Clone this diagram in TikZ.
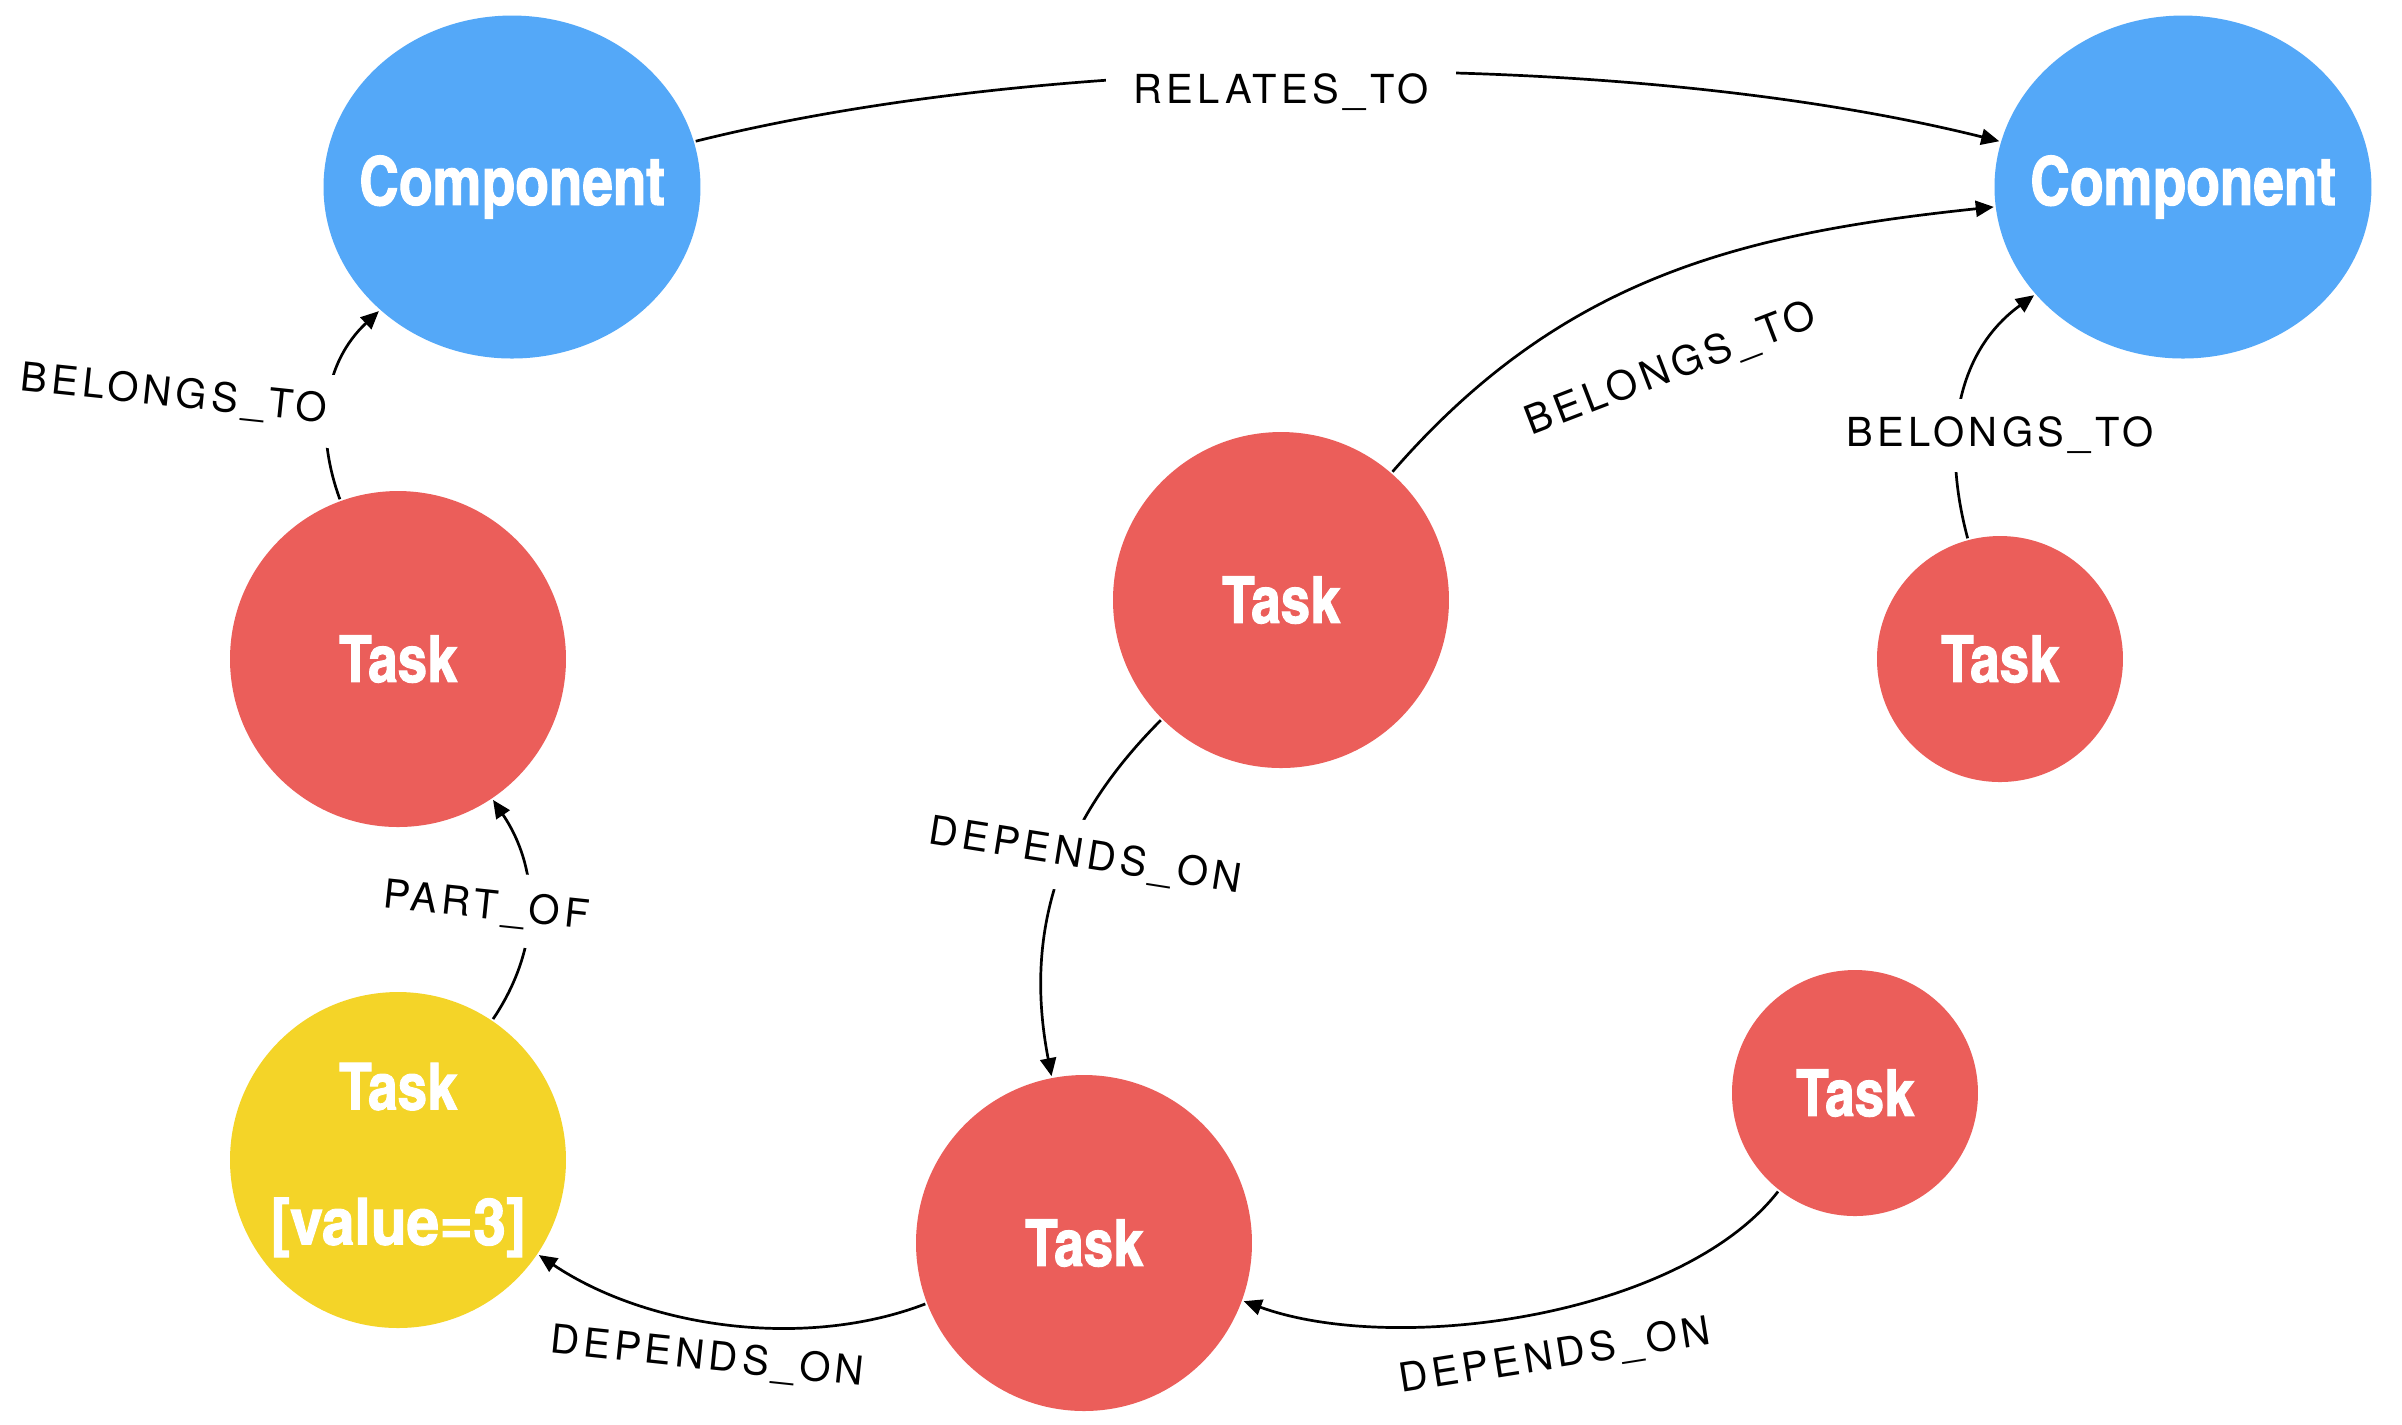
\documentclass[tikz,border=0pt]{standalone}
\usepackage{fontspec}
\usetikzlibrary{shapes.geometric,arrows.meta}
\newfontfamily\nodefont{texgyreheroscn-bold.otf}[FakeBold=1.5]
\newfontfamily\labfont{texgyreheros-regular.otf}[LetterSpace=11]
\definecolor{compblue}{HTML}{54A8F8}
\definecolor{taskred}{HTML}{EB5E5A}
\definecolor{taskyellow}{HTML}{F4D428}
\begin{document}
\begin{tikzpicture}[x=0.1pt,y=-0.1pt,
  comp/.style={ellipse, fill=compblue, minimum width=37.7pt, minimum height=34.3pt, inner sep=0pt, text=white, font=\nodefont\fontsize{6.7}{7}\selectfont},
  bigtask/.style={circle, fill=taskred, minimum size=33.6pt, inner sep=0pt, text=white, font=\nodefont\fontsize{6.5}{7}\selectfont},
  smalltask/.style={bigtask, minimum size=24.6pt},
  yellowtask/.style={bigtask, fill=taskyellow, align=center, font=\nodefont\fontsize{6.5}{13.5}\selectfont},
  rel/.style={line width=0.27pt, -{Triangle[length=1.8pt,width=1.6pt]}},
  lab/.style={font=\labfont\fontsize{4}{4.4}\selectfont, inner sep=0pt},
  gaplab/.style={lab, fill=white, inner xsep=2.8pt, inner ysep=1.8pt}
]
\fill[white] (0,0) rectangle (2402,1424);
\useasboundingbox (0,0) rectangle (2402,1424);

\node[comp] (c1) at (512,187) {\makebox[0pt]{Component}};
\node[comp] (c2) at (2183,187) {\makebox[0pt]{Component}};
\node[bigtask] (ta) at (398,659) {Task};
\node[bigtask] (tb) at (1281,600) {Task};
\node[smalltask] (tc) at (2000,659) {Task};
\node[yellowtask] (ty) at (398,1160) {Task\\{\scalebox{1.1}[1]{[value=3]}}};
\node[bigtask] (td) at (1084,1243) {Task};
\node[smalltask] (te) at (1855,1093) {Task};

\draw[rel] (c1) to[out=14,in=166,looseness=0.75] (c2);
\draw[rel] (ta) to[out=110,in=223] (c1);
\draw[rel] (tb) to[out=49,in=186] (c2);
\draw[rel] (tc) to[out=105,in=216] (c2);
\draw[rel] (ty) to[out=56,in=-56] (ta);
\draw[rel] (tb) to[out=225,in=101] (td);
\draw[rel] (td) to[out=201,in=-34,looseness=0.85] (ty);
\draw[rel] (te) to[out=232,in=-20,looseness=0.75] (td);

\node[gaplab] (l1) at (1281,92) {RELATES\_TO};
\node[gaplab, rotate=-6] (l2) at (174,395) {BELONGS\_TO};
\node[lab, rotate=21] (l3) at (1671,370) {BELONGS\_TO};
\node[gaplab] (l4) at (2000,435) {BELONGS\_TO};
\node[gaplab, rotate=-6] (l5) at (486,907) {PART\_OF};
\node[gaplab, rotate=-9] (l6) at (1085,857) {DEPENDS\_ON};
\node[lab, rotate=-6] (l7) at (707,1358) {DEPENDS\_ON};
\node[lab, rotate=9] (l8) at (1555,1357) {DEPENDS\_ON};
\end{tikzpicture}
\end{document}
